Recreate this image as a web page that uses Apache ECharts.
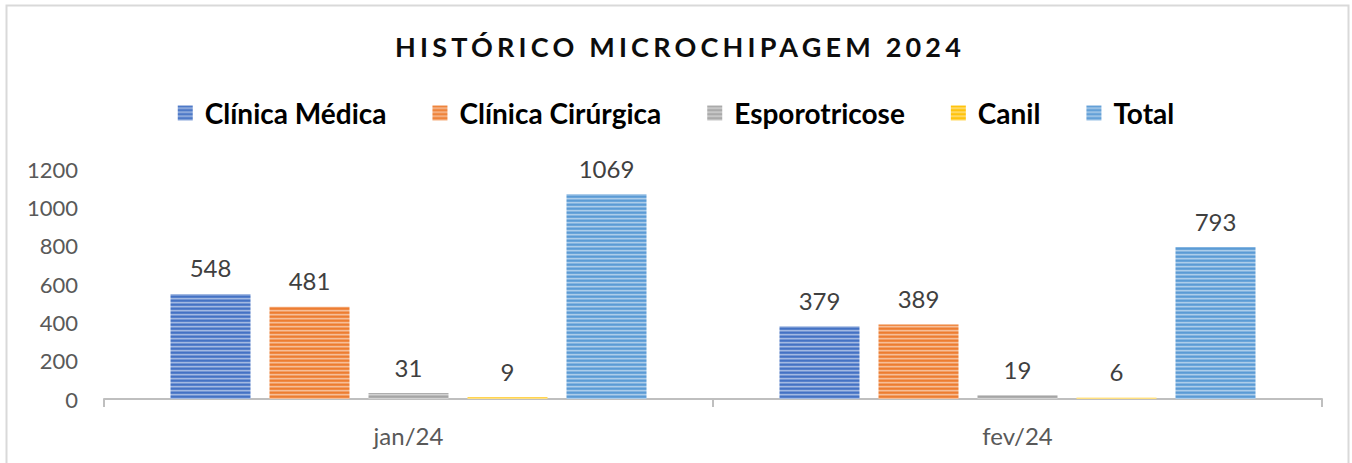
<!DOCTYPE html>
<html>
<head>
<meta charset="utf-8">
<script src="https://cdn.jsdelivr.net/npm/echarts@6/dist/echarts.min.js"></script>
<style>
  html, body { margin: 0; padding: 0; background: #fff; }
  #chart { width: 1352px; height: 463px; }
</style>
</head>
<body>
<div id="chart"></div>
<script>
// dados do gráfico
const months = ['jan/24', 'fev/24']
const seriesNames = ['Clínica Médica', 'Clínica Cirúrgica', 'Esporotricose', 'Canil', 'Total']
const clinicaMedica = [548, 379]
const clinicaCirurgica = [481, 389]
const esporotricose = [31, 19]
const canil = [9, 6]
const total = [1069, 793]
const yTicks = [0, 200, 400, 600, 800, 1000, 1200]

const titleText = 'HISTÓRICO MICROCHIPAGEM 2024'
const seriesColors = ['#4472C4', '#ED7D31', '#A5A5A5', '#FFC000', '#5B9BD5']
const font = 'Lato, "Open Sans", sans-serif'

// mistura a cor com branco
function mix(hex, t) {
  let r = parseInt(hex.slice(1, 3), 16)
  let g = parseInt(hex.slice(3, 5), 16)
  let b = parseInt(hex.slice(5, 7), 16)
  r = Math.round(r + (255 - r) * t)
  g = Math.round(g + (255 - g) * t)
  b = Math.round(b + (255 - b) * t)
  return 'rgb(' + r + ',' + g + ',' + b + ')'
}

// textura de listras horizontais (estilo Excel)
function stripes(hex) {
  let c = document.createElement('canvas')
  c.width = 4
  c.height = 4
  let ctx = c.getContext('2d')
  let rows = [mix(hex, 0), mix(hex, 0.1), mix(hex, 0.5), mix(hex, 0.25)]
  rows.forEach((col, i) => {
    ctx.fillStyle = col
    ctx.fillRect(0, i, 4, 1)
  })
  return { image: c, repeat: 'repeat', imageWidth: 4, imageHeight: 4 }
}

const seriesData = [clinicaMedica, clinicaCirurgica, esporotricose, canil, total]

let chart = echarts.init(document.getElementById('chart'), null, { renderer: 'svg' })

let option = {
  animation: false,
  backgroundColor: '#fff',
  graphic: [{
    type: 'rect',
    shape: { x: 6.5, y: 5.5, width: 1342, height: 480 },
    style: { fill: 'none', stroke: '#d9d9d9', lineWidth: 2 },
    silent: true
  }],
  title: {
    text: titleText,
    left: 390,
    top: 28,
    textStyle: { fontFamily: font, fontSize: 27, fontWeight: 'bold', color: '#0d0d0d' }
  },
  legend: {
    top: 94,
    left: 'center',
    itemWidth: 15,
    itemHeight: 15,
    itemGap: 46,
    icon: 'rect',
    textStyle: { fontFamily: font, fontSize: 28, fontWeight: 'bold', color: '#000', padding: [0, 0, 0, 7] },
    data: seriesNames
  },
  grid: { left: 104, right: 30, top: 169, bottom: 64, containLabel: false },
  xAxis: {
    type: 'category',
    data: months,
    axisLine: { lineStyle: { color: '#bfbfbf', width: 2 } },
    axisTick: { show: true, length: 8, lineStyle: { color: '#bfbfbf', width: 2 } },
    axisLabel: { fontFamily: font, fontSize: 24, color: '#595959', margin: 24 }
  },
  yAxis: {
    type: 'value',
    min: yTicks[0],
    max: yTicks[yTicks.length - 1],
    interval: 200,
    splitLine: { show: false },
    axisLine: { show: false },
    axisTick: { show: false },
    axisLabel: { fontFamily: font, fontSize: 22, color: '#595959', margin: 26, formatter: v => String(v) }
  },
  series: seriesNames.map((name, i) => ({
    name: name,
    type: 'bar',
    data: seriesData[i],
    barWidth: 80,
    barGap: '23.75%',
    itemStyle: { color: stripes(seriesColors[i]) },
    label: {
      show: true,
      position: 'top',
      distance: 14,
      fontFamily: font,
      fontSize: 24,
      color: '#404040'
    }
  }))
}

chart.setOption(option)

// espaçamento entre letras do título (igual ao Excel)
chart.getDom().querySelectorAll('text').forEach(t => {
  if (t.textContent === titleText) t.style.letterSpacing = '4.2px'
})
</script>
</body>
</html>
